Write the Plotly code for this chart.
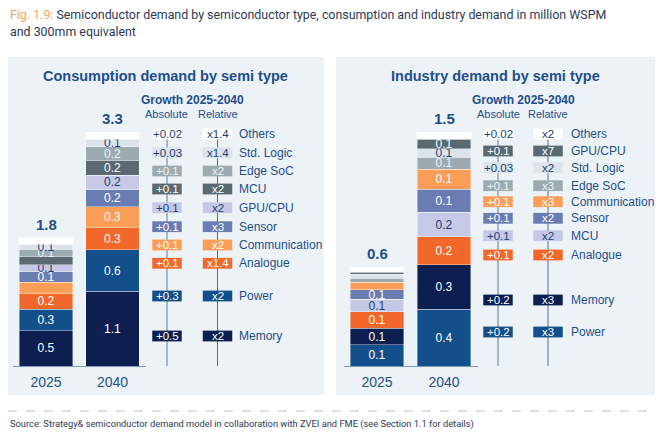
import plotly.graph_objects as go

# The page body has an 8px default margin; the figure is sized to fit inside it.
OFF = 8
W, H = 663 - 2 * OFF, 439 - 2 * OFF

# ---------------- data ----------------
years = ["2025", "2040"]

left_cats = ["Memory", "Power", "Analogue", "Communication", "Sensor",
             "GPU/CPU", "MCU", "Edge SoC", "Std. Logic", "Others"]
left_2025 = [0.50, 0.30, 0.22, 0.16, 0.145, 0.10, 0.12, 0.10, 0.07, 0.09]
left_2040 = [1.05, 0.59, 0.31, 0.29, 0.245, 0.20, 0.21, 0.19, 0.11, 0.10]
left_lbl_2025 = ["0.5", "0.3", "0.2", "", "0.1", "0.1", "", "0.1", "0.1", ""]
left_lbl_2040 = ["1.1", "0.6", "0.3", "0.3", "0.2", "0.2", "0.2", "0.2", "0.1", ""]
left_totals = ["1.8", "3.3"]

right_cats = ["Power", "Memory", "Analogue", "MCU", "Sensor",
              "Communication", "Edge SoC", "Std. Logic", "GPU/CPU", "Others"]
right_2025 = [0.135, 0.107, 0.105, 0.081, 0.060, 0.049, 0.026, 0.026, 0.013, 0.030]
right_2040 = [0.363, 0.286, 0.18, 0.156, 0.147, 0.13, 0.075, 0.056, 0.06, 0.047]
right_lbl_2025 = ["0.1", "0.1", "0.1", "0.1", "0.1", "", "", "", "", ""]
right_lbl_2040 = ["0.4", "0.3", "0.2", "0.2", "0.1", "0.1", "0.1", "0.1", "0.1", ""]
right_totals = ["0.6", "1.5"]

left_leg_cats = ["Others", "Std. Logic", "Edge SoC", "MCU", "GPU/CPU", "Sensor",
                 "Communication", "Analogue", "Power", "Memory"]
left_abs = ["+0.02", "+0.03", "+0.1", "+0.1", "+0.1", "+0.1", "+0.1", "+0.1", "+0.3", "+0.5"]
left_rel = ["x1.4", "x1.4", "x2", "x2", "x2", "x3", "x2", "x1.4", "x2", "x2"]

right_leg_cats = ["Others", "GPU/CPU", "Std. Logic", "Edge SoC", "Communication", "Sensor",
                  "MCU", "Analogue", "Memory", "Power"]
right_abs = ["+0.02", "+0.1", "+0.03", "+0.1", "+0.1", "+0.1", "+0.1", "+0.1", "+0.2", "+0.2"]
right_rel = ["x2", "x7", "x2", "x3", "x3", "x2", "x2", "x2", "x3", "x3"]

# ---------------- styles / layout positions ----------------
DARK_TXT = "#1d3f78"
WHITE = "#ffffff"
left_colors = {
    "Memory": "#0c1f50",
    "Power": "#134f8b",
    "Analogue": "#f2682a",
    "Communication": "#f99d57",
    "Sensor": "#6a7db2",
    "GPU/CPU": "#c5c9e5",
    "MCU": "#5a6a70",
    "Edge SoC": "#9dabb0",
    "Std. Logic": "#dce4ea",
    "Others": "#ffffff",
}
left_txt = {k: WHITE for k in left_colors}
left_txt.update({"GPU/CPU": DARK_TXT, "Std. Logic": DARK_TXT, "Others": DARK_TXT, "Edge SoC": "#eef2f4"})

right_colors = dict(left_colors)
right_colors.update({"GPU/CPU": "#5a6a70", "MCU": "#c5c9e5"})
right_txt = dict(left_txt)
right_txt.update({"GPU/CPU": WHITE, "MCU": DARK_TXT})

BLUE = "#1d4f8c"
PANEL = "#edf2f6"
FONT = "Liberation Sans, Arial, sans-serif"

left_rows_y = [134, 152.7, 171, 189, 207.7, 226.7, 245, 263.3, 296, 336]
right_rows_y = [134, 151, 167.7, 185.7, 201.7, 218.3, 235.7, 255, 300, 332]


def px(x):
    return (x - OFF) / W


def py(y):
    return 1 - (y - OFF) / H


fig = go.Figure()


def add_bars(cats, v25, v40, l25, l40, cols, tcols, xa, ya):
    for i, c in enumerate(cats):
        fig.add_trace(go.Bar(
            x=years, y=[v25[i], v40[i]], text=[l25[i], l40[i]],
            xaxis=xa, yaxis=ya, name=c,
            marker=dict(color=cols[c], line=dict(color="rgba(255,255,255,0.55)", width=0.7)),
            textposition="inside", insidetextanchor="middle", textangle=0,
            textfont=dict(color=tcols[c], size=12, family=FONT),
            hoverinfo="skip", showlegend=False,
        ))


add_bars(left_cats, left_2025, left_2040, left_lbl_2025, left_lbl_2040, left_colors, left_txt, "x", "y")
add_bars(right_cats, right_2025, right_2040, right_lbl_2025, right_lbl_2040, right_colors, right_txt, "x2", "y2")

shapes = []
annotations = []

# panel backgrounds
for x0, x1 in [(8, 324), (336, 655)]:
    shapes.append(dict(type="rect", xref="paper", yref="paper", x0=px(x0), x1=px(x1),
                       y0=py(395), y1=py(57), fillcolor=PANEL, line=dict(width=0), layer="below"))

# totals above bars (x given as category index)
for tots, v25, v40, xr, yr in [(left_totals, left_2025, left_2040, "x", "y"),
                               (right_totals, right_2025, right_2040, "x2", "y2")]:
    sums = [sum(v25), sum(v40)]
    for j in range(2):
        annotations.append(dict(x=j, y=sums[j], xref=xr, yref=yr, text=f"<b>{tots[j]}</b>",
                                showarrow=False, yanchor="bottom", yshift=3,
                                font=dict(size=15, color=BLUE, family=FONT)))


def add_legend(leg_cats, abs_v, rel_v, cols, tcols, rows_y, cx_abs, cx_rel, x_lab):
    shapes.append(dict(type="line", xref="paper", yref="paper", x0=px(cx_abs), x1=px(cx_abs),
                       y0=py(rows_y[0]), y1=py(366), line=dict(color="#a3b6cc", width=2), layer="above"))
    shapes.append(dict(type="line", xref="paper", yref="paper", x0=px(cx_rel), x1=px(cx_rel),
                       y0=py(rows_y[0]), y1=py(366), line=dict(color="#4d6e9c", width=1), layer="above"))
    bw, bh = 29.5, 10.8
    for i, c in enumerate(leg_cats):
        yc = rows_y[i]
        for cx, txt in [(cx_abs, abs_v[i]), (cx_rel, rel_v[i])]:
            shapes.append(dict(type="rect", xref="paper", yref="paper",
                               x0=px(cx - bw / 2), x1=px(cx + bw / 2),
                               y0=py(yc + bh / 2), y1=py(yc - bh / 2),
                               fillcolor=cols[c], line=dict(width=0), layer="above"))
            annotations.append(dict(x=px(cx), y=py(yc), xref="paper", yref="paper", text=txt,
                                    showarrow=False, xanchor="center", yanchor="middle",
                                    font=dict(size=11.5, color=tcols[c], family=FONT)))
        annotations.append(dict(x=px(x_lab), y=py(yc), xref="paper", yref="paper", text=c,
                                showarrow=False, xanchor="left", yanchor="middle",
                                font=dict(size=12, color=BLUE, family=FONT)))


add_legend(left_leg_cats, left_abs, left_rel, left_colors, left_txt, left_rows_y, 167, 217.5, 237)
add_legend(right_leg_cats, right_abs, right_rel, right_colors, right_txt, right_rows_y, 498, 548, 569)

# panel titles and growth headers
for cx, title, gx, ax_, rx_ in [(165.5, "Consumption demand by semi type", 192.5, 166.5, 218),
                                (495.5, "Industry demand by semi type", 523, 498, 548)]:
    annotations.append(dict(x=px(cx), y=py(76), xref="paper", yref="paper", text=f"<b>{title}</b>",
                            showarrow=False, xanchor="center", yanchor="middle",
                            font=dict(size=14.5, color=BLUE, family=FONT)))
    annotations.append(dict(x=px(gx), y=py(100), xref="paper", yref="paper", text="<b>Growth 2025-2040</b>",
                            showarrow=False, xanchor="center", yanchor="middle",
                            font=dict(size=12, color=BLUE, family=FONT)))
    annotations.append(dict(x=px(ax_), y=py(114), xref="paper", yref="paper", text="Absolute",
                            showarrow=False, xanchor="center", yanchor="middle",
                            font=dict(size=11, color=BLUE, family=FONT)))
    annotations.append(dict(x=px(rx_), y=py(114), xref="paper", yref="paper", text="Relative",
                            showarrow=False, xanchor="center", yanchor="middle",
                            font=dict(size=11, color=BLUE, family=FONT)))

# figure title
annotations.append(dict(x=px(8), y=py(14), xref="paper", yref="paper",
                        text="<span style='color:#f7a35c'>Fig. 1.9:</span> Semiconductor demand by semiconductor type, consumption and industry demand in million WSPM",
                        showarrow=False, xanchor="left", yanchor="middle",
                        font=dict(size=12.4, color="#2b3a55", family="Roboto")))
annotations.append(dict(x=px(8), y=py(32), xref="paper", yref="paper",
                        text="and 300mm equivalent",
                        showarrow=False, xanchor="left", yanchor="middle",
                        font=dict(size=12.4, color="#2b3a55", family="Roboto")))

# footer
shapes.append(dict(type="line", xref="paper", yref="paper", x0=px(8), x1=px(655), y0=py(411), y1=py(411),
                   line=dict(color="#b8c0c8", width=1, dash="dash")))
annotations.append(dict(x=px(8), y=py(424), xref="paper", yref="paper",
                        text="Source: Strategy& semiconductor demand model in collaboration with ZVEI and FME (see Section 1.1 for details)",
                        showarrow=False, xanchor="left", yanchor="middle",
                        font=dict(size=9.3, color="#2b3a55", family="Roboto")))

xcommon = dict(type="category", range=[-0.5, 1.5], autorange=False,
               showline=True, linecolor="#7f98b6", linewidth=1, ticks="",
               showgrid=False, zeroline=False, tickfont=dict(size=14, color=BLUE, family=FONT),
               ticklabelstandoff=3, fixedrange=True)
ycommon = dict(visible=False, showgrid=False, zeroline=False, fixedrange=True, autorange=False)

fig.update_layout(
    width=W, height=H, margin=dict(l=0, r=0, t=0, b=0),
    paper_bgcolor="white", plot_bgcolor="rgba(0,0,0,0)",
    barmode="stack", bargap=0.2,
    uniformtext=dict(minsize=12, mode="show"),
    xaxis=dict(domain=[px(12.75), px(145.75)], anchor="y", **xcommon),
    yaxis=dict(domain=[py(366), py(366 - 3.6 * 71.0)], range=[0, 3.6], anchor="x", **ycommon),
    xaxis2=dict(domain=[px(343.5), px(477.5)], anchor="y2", **xcommon),
    yaxis2=dict(domain=[py(366), py(366 - 1.6 * 156.0)], range=[0, 1.6], anchor="x2", **ycommon),
    shapes=shapes, annotations=annotations,
    hovermode=False,
)

fig.write_html("out.html")
